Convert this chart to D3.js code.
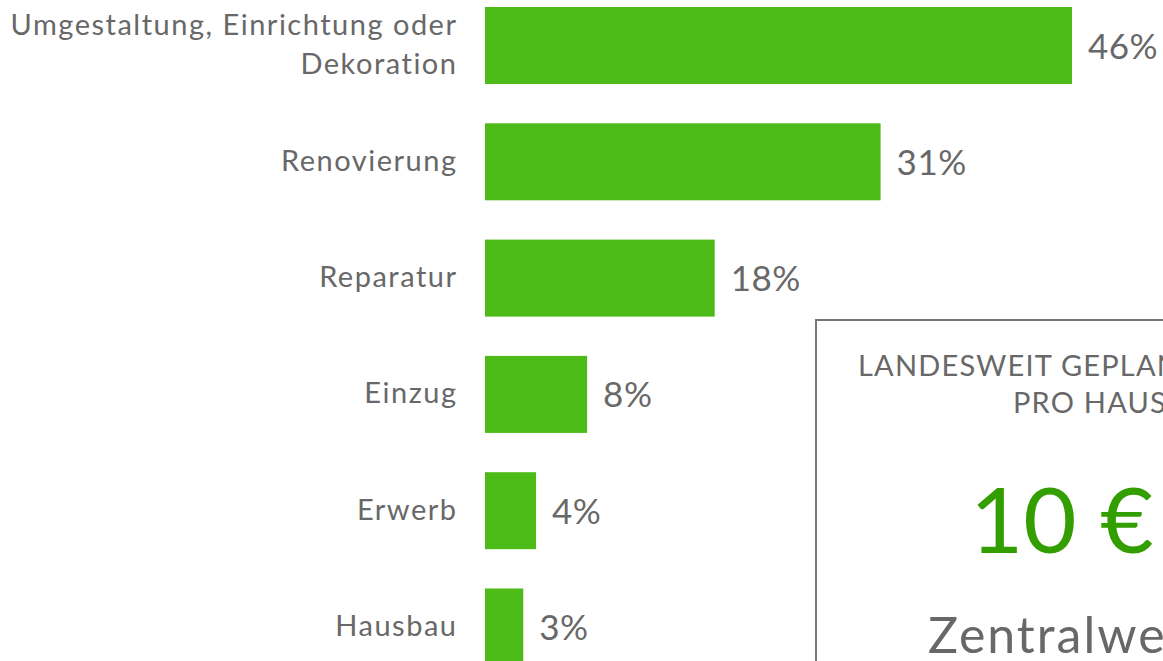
<!DOCTYPE html>
<html>
<head>
<meta charset="utf-8">
<script src="https://cdnjs.cloudflare.com/ajax/libs/d3/7.8.5/d3.min.js"></script>
<style>
  body { margin: 0; background: #fff; overflow: hidden; }
  svg { display: block; font-family: Lato, "Open Sans", sans-serif; }
</style>
</head>
<body>
<div id="chart"></div>
<script>
// categories and shares (percent)
let categories = [
  ['Umgestaltung, Einrichtung oder', 'Dekoration'],
  ['Renovierung'],
  ['Reparatur'],
  ['Einzug'],
  ['Erwerb'],
  ['Hausbau']
];
let shares = [46, 31, 18, 8, 4, 3];

// info box texts
let boxTitle = ['LANDESWEIT GEPLANTE AUSGABEN', 'PRO HAUSHALT'];
let boxValue = '10 €';
let boxCaption = 'Zentralwert';

let width = 1163;
let height = 661;
let barLeft = 485;
let green = '#4cbb17';
let grey = '#686868';
let spacing = 1.5; // lato is narrower than the original font

let data = categories.map(function(c, i) {
  return { key: c.join(' '), lines: c, value: shares[i] };
});

let svg = d3.select('#chart')
  .append('svg')
  .attr('width', width)
  .attr('height', height);

let xScale = d3.scaleLinear()
  .domain([0, 46])
  .range([barLeft, 1072]);

let yScale = d3.scaleBand()
  .domain(data.map(function(d) { return d.key; }))
  .range([-12.65, 685.15])
  .paddingInner(0.338)
  .paddingOuter(0.169);

// bars
svg.selectAll('rect.bar')
  .data(data)
  .enter()
  .append('rect')
  .attr('class', 'bar')
  .attr('x', xScale(0))
  .attr('y', function(d) { return yScale(d.key); })
  .attr('width', function(d) { return xScale(d.value) - xScale(0); })
  .attr('height', yScale.bandwidth())
  .attr('fill', green);

// value labels
svg.selectAll('text.value')
  .data(data)
  .enter()
  .append('text')
  .attr('class', 'value')
  .attr('x', function(d) { return xScale(d.value) + 16; })
  .attr('y', function(d) { return yScale(d.key) + yScale.bandwidth() / 2 + 13; })
  .attr('fill', grey)
  .style('font-size', '35px')
  .style('letter-spacing', '0.5px')
  .text(function(d) { return d.value + '%'; });

// category labels, right aligned
let labels = svg.selectAll('text.cat')
  .data(data)
  .enter()
  .append('text')
  .attr('class', 'cat')
  .attr('text-anchor', 'end')
  .attr('fill', grey)
  .style('font-size', '29px')
  .style('letter-spacing', spacing + 'px')
  .attr('transform', function(d) {
    let mid = yScale(d.key) + yScale.bandwidth() / 2;
    return 'translate(' + (456 + spacing) + ',' + (mid + 9 - (d.lines.length - 1) * 19.5) + ')';
  });

labels.selectAll('tspan')
  .data(function(d) { return d.lines; })
  .enter()
  .append('tspan')
  .attr('x', 0)
  .attr('dy', function(d, i) { return i === 0 ? 0 : 39; })
  .text(function(d) { return d; });

// info box (runs off the right and bottom edge)
let box = svg.append('g');

box.append('rect')
  .attr('x', 816)
  .attr('y', 320)
  .attr('width', 600)
  .attr('height', 500)
  .attr('fill', 'none')
  .attr('stroke', '#777')
  .attr('stroke-width', 2);

box.selectAll('text.title')
  .data(boxTitle)
  .enter()
  .append('text')
  .attr('class', 'title')
  .attr('x', function(d, i) { return i === 0 ? 858 : 1013; })
  .attr('y', function(d, i) { return 376 + i * 37; })
  .attr('fill', grey)
  .style('font-size', '29px')
  .style('letter-spacing', '1.2px')
  .text(function(d) { return d; });

box.append('text')
  .attr('x', 970)
  .attr('y', 553)
  .attr('fill', '#339e00')
  .style('font-size', '92px')
  .text(boxValue);

box.append('text')
  .attr('x', 928)
  .attr('y', 653)
  .attr('fill', grey)
  .style('font-size', '50px')
  .style('letter-spacing', '2px')
  .text(boxCaption);
</script>
</body>
</html>
